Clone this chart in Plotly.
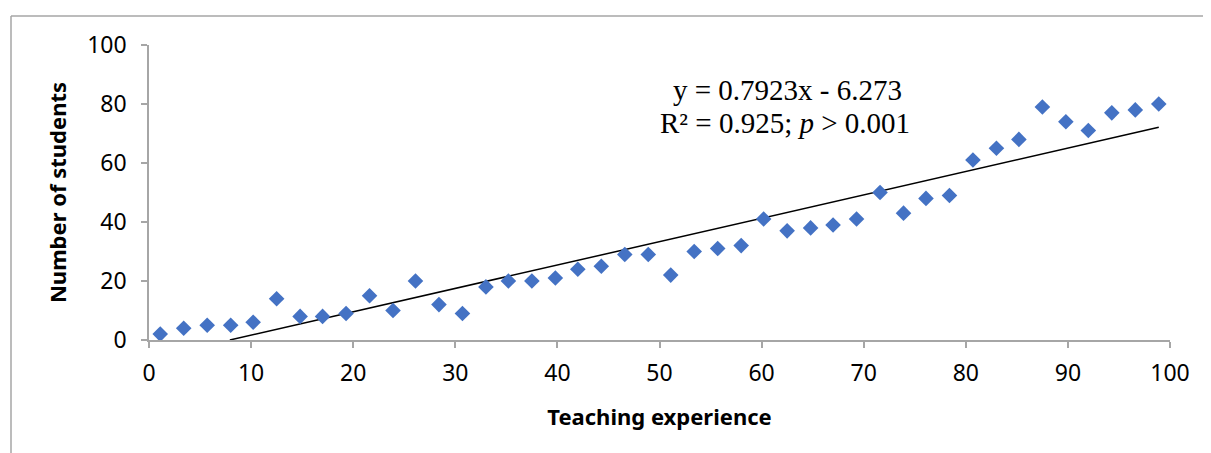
import plotly.graph_objects as go

experience = [1.1, 3.4, 5.7, 8.0, 10.2, 12.5, 14.8, 17.0, 19.3, 21.6, 23.9,
              26.1, 28.4, 30.7, 33.0, 35.2, 37.5, 39.8, 42.0, 44.3, 46.6, 48.9,
              51.1, 53.4, 55.7, 58.0, 60.2, 62.5, 64.8, 67.0, 69.3, 71.6, 73.9,
              76.1, 78.4, 80.7, 83.0, 85.2, 87.5, 89.8, 92.0, 94.3, 96.6, 98.9]
students = [2, 4, 5, 5, 6, 14, 8, 8, 9, 15, 10,
            20, 12, 9, 18, 20, 20, 21, 24, 25, 29, 29,
            22, 30, 31, 32, 41, 37, 38, 39, 41, 50, 43,
            48, 49, 61, 65, 68, 79, 74, 71, 77, 78, 80]
slope = 0.7923
intercept = -6.273
trend_x = [-intercept / slope, experience[-1]]
trend_y = [slope * x + intercept for x in trend_x]

fig = go.Figure()
fig.add_trace(go.Scatter(x=trend_x, y=trend_y, mode="lines",
                         line=dict(color="black", width=1.5), showlegend=False))
fig.add_trace(go.Scatter(x=experience, y=students, mode="markers",
                         marker=dict(symbol="diamond", size=12, color="#4472C4"),
                         showlegend=False))

axis_common = dict(showgrid=False, zeroline=False, showline=True, linecolor="#A6A6A6",
                   linewidth=1.5, ticks="outside", tickcolor="#A6A6A6", ticklen=6,
                   tickwidth=1.5, automargin=False,
                   tickfont=dict(family="Noto Sans", size=23, color="black"))

L, T, PW, PH = 141, 37, 1021, 294.6
fx = (3 - L) / PW
fy = (T + PH - 8) / PH

fig.update_layout(
    width=1211, height=453,
    margin=dict(l=L, r=1211 - L - PW, t=T, b=453 - T - PH),
    plot_bgcolor="white", paper_bgcolor="white",
    xaxis=dict(range=[0, 100], dtick=10, tick0=0,
               title=dict(text="<b>Teaching experience</b>", standoff=22,
                          font=dict(family="Noto Sans", size=22, color="black")),
               ticklabelstandoff=6, **axis_common),
    yaxis=dict(range=[0, 100], dtick=20, tick0=0,
               title=dict(text="<b>Number of students</b>", standoff=14,
                          font=dict(family="Noto Sans", size=22, color="black")),
               ticklabelstandoff=10, **axis_common),
    shapes=[
        dict(type="line", xref="paper", yref="paper", x0=fx, x1=1.3, y0=fy, y1=fy,
             line=dict(color="#A6A6A6", width=1.5)),
        dict(type="line", xref="paper", yref="paper", x0=fx, x1=fx, y0=fy, y1=-0.6,
             line=dict(color="#A6A6A6", width=1.5)),
    ],
    annotations=[
        dict(x=62.5, y=84.8, xref="x", yref="y", text="y = 0.7923x - 6.273",
             showarrow=False, xanchor="center", yanchor="middle",
             font=dict(family="Liberation Serif", size=29, color="black")),
        dict(x=62.3, y=73.6, xref="x", yref="y", text="R² = 0.925; <i>p</i> > 0.001",
             showarrow=False, xanchor="center", yanchor="middle",
             font=dict(family="Liberation Serif", size=29, color="black")),
    ],
)

fig.write_html("out.html")
